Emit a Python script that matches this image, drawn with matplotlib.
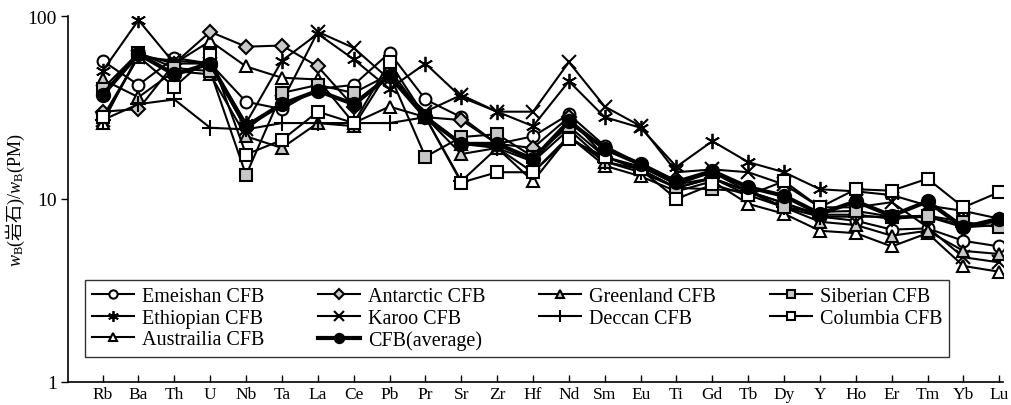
import numpy as np
import matplotlib
matplotlib.use('Agg')
import matplotlib.pyplot as plt


elements = ['Rb', 'Ba', 'Th', 'U', 'Nb', 'Ta', 'La', 'Ce', 'Pb', 'Pr', 'Sr', 'Zr', 'Hf',
            'Nd', 'Sm', 'Eu', 'Ti', 'Gd', 'Tb', 'Dy', 'Y', 'Ho', 'Er', 'Tm', 'Yb', 'Lu']

emeishan   = [57, 42, 59, 55, 34, 31, 40, 42, 63, 35, 28, 20, 22, 29, 19.5, 15.5, 12, 14, 11, 9.5, 8, 7.6, 6.8, 6.9, 5.9, 5.5]
antarctic  = [30, 31, 55, 82, 68, 69, 53, 32, 48, 28, 27, 20, 19, 28, 17, 15, 12, 13, 11, 9.5, 8.2, 8.2, 7.8, 8.0, 7.2, 7.5]
greenland  = [45, 36, 50, 48, 22, 19, 26, 25, 51, 28, 17.6, 19, 16, 24, 16, 14.5, 11.5, 13, 10.5, 9, 7.5, 7.2, 6.3, 6.7, 5.2, 5.0]
siberian   = [40, 63, 52, 50, 13.5, 38, 42, 38, 48, 17, 21.8, 22.6, 17, 25, 17, 14.5, 11.5, 11.3, 11, 9, 8.5, 8.6, 8.0, 8.1, 7.5, 7.0]
ethiopian  = [50, 95, 55, 55, 26, 57, 80, 58, 40, 55, 36, 30, 25, 44, 28, 24.5, 15, 20.7, 15.9, 14, 11.3, 11, 10.5, 9.2, 8.6, 7.8]
karoo      = [27, 60, 57, 55, 24, 34, 82, 67, 45, 30, 37, 30, 30, 56, 32, 25, 14, 14.5, 14, 12, 9, 9, 9.6, 7.0, 4.8, 4.5]
deccan     = [27, 33, 35, 24.5, 24, 26, 26, 26, 26, 28, 12.5, 19, 14, 22, 16, 14, 11.5, 13, 11, 9, 8, 8, 8, 8, 7, 7.2]
columbia   = [28, 60, 41, 61, 17.5, 21, 30, 26, 56, 28, 12.3, 14, 14, 21.3, 17, 14.5, 10, 12, 10.5, 12.5, 9, 11.3, 11.1, 12.9, 9.0, 10.9]
australia  = [26, 62, 55, 73, 53, 46, 45, 26, 32, 28, 20, 19, 12.5, 22, 15.2, 13.3, 11, 12.5, 9.4, 8.3, 6.7, 6.5, 5.5, 6.5, 4.3, 4.0]
cfb_avg    = [37, 62, 48, 55, 25, 33, 39, 33, 47, 28, 20, 20, 16.5, 26.6, 18.8, 15.5, 12.4, 14.2, 11.6, 10.4, 8.3, 9.7, 8.1, 9.7, 7.0, 7.8]


plt.rcParams['font.family'] = ['Liberation Serif', 'Noto Sans CJK SC']
plt.rcParams['mathtext.fontset'] = 'custom'
plt.rcParams['mathtext.rm'] = 'Liberation Serif'
plt.rcParams['mathtext.it'] = 'Liberation Serif:italic'
plt.rcParams['mathtext.sf'] = 'Noto Sans CJK SC'

gray = '#c8c8c8'

fig = plt.figure(figsize = (10.12, 4.06), dpi = 100)
ax  = fig.add_axes([0.067, 0.057, 0.924, 0.901])

x = np.arange(len(elements))

# order chosen so the 4-column legend reads row by row like the original
series = [
    ('Emeishan CFB',   emeishan,  dict(marker = 'o', mfc = 'white', ms = 8.5)),
    ('Ethiopian CFB',  ethiopian, dict(marker = (6, 2, 0), ms = 11, mew = 1.3)),
    ('Austrailia CFB', australia, dict(marker = '^', mfc = 'white', ms = 8.5)),
    ('Antarctic CFB',  antarctic, dict(marker = 'D', mfc = gray, ms = 7)),
    ('Karoo CFB',      karoo,     dict(marker = 'x', ms = 10)),
    ('CFB(average)',   cfb_avg,   dict(marker = 'o', mfc = 'black', ms = 9.5, lw = 3)),
    ('Greenland CFB',  greenland, dict(marker = '^', mfc = gray, ms = 8.5)),
    ('Deccan CFB',     deccan,    dict(marker = '+', ms = 12)),
    ('Siberian CFB',   siberian,  dict(marker = 's', mfc = gray, ms = 8.5)),
    ('Columbia CFB',   columbia,  dict(marker = 's', mfc = 'white', ms = 8.5)),
]

handles = []
for name, vals, style in series:
    kw = dict(color = 'black', mec = 'black', mew = 1.5, lw = 1.5)
    kw.update(style)
    z = 5 if name == 'CFB(average)' else 2
    h, = ax.plot(x, vals, label = name, zorder = z, **kw)
    handles.append(h)

ax.set_yscale('log')
ax.set_ylim(1, 100)
ax.set_xlim(-0.97, 25.1)

ax.set_yticks([1, 10, 100])
ax.set_yticklabels(['1', '10', '100'])
ax.yaxis.set_minor_locator(matplotlib.ticker.NullLocator())
ax.tick_params(axis = 'y', direction = 'out', length = 5, width = 1, labelsize = 14, pad = 3)

ax.set_xticks(x)
ax.set_xticklabels(elements)
ax.tick_params(axis = 'x', direction = 'in', length = 5, width = 1, labelsize = 12.5, pad = 3)

for s in ['top', 'right']:
    ax.spines[s].set_visible(False)
for s in ['left', 'bottom']:
    ax.spines[s].set_linewidth(1.2)

ax.set_ylabel('$w_\\mathrm{B}$($\\mathsf{岩石}$)/$w_\\mathrm{B}$(PM)', fontsize = 13, labelpad = 0)

leg = ax.legend(handles = handles, ncol = 4, loc = 'lower left',
                bbox_to_anchor = (0.018, 0.068), borderaxespad = 0, fontsize = 14.5,
                frameon = True, fancybox = False, edgecolor = 'black',
                handlelength = 2.1, handletextpad = 0.4, columnspacing = 2.65,
                labelspacing = 0.12, borderpad = 0.35, markerscale = 0.7)
leg.get_frame().set_linewidth(1.0)

fig.savefig('out.png', dpi = 100)
